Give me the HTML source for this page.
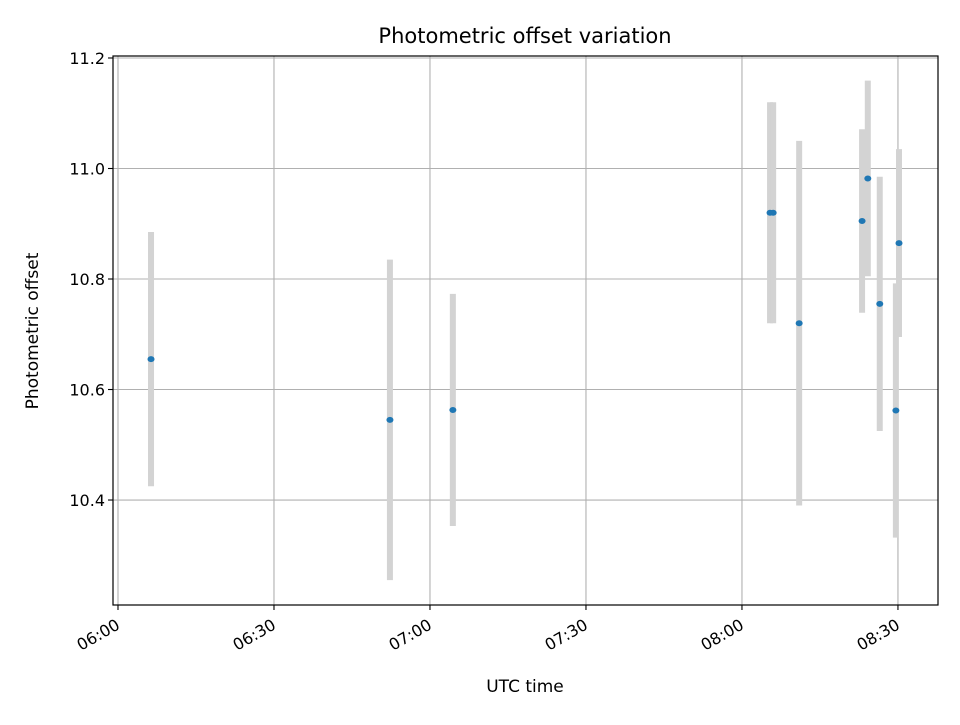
<!DOCTYPE html>
<html><head><meta charset="utf-8"><style>
body{margin:0;background:#fff}
svg text{font-family:"DejaVu Sans","Liberation Sans",sans-serif;fill:#000}
</style></head><body>
<svg id="chart" width="960" height="720" viewBox="0 0 960 720" xmlns="http://www.w3.org/2000/svg">
<rect width="960" height="720" fill="#fff"/>
<g id="grid"></g>
<g id="bars"></g>
<g id="pts"></g>
<rect x="113" y="56" width="825" height="549" fill="none" stroke="#000" stroke-width="1.2"/>
<g id="ticks"></g>
<text x="525" y="43" font-size="21" text-anchor="middle">Photometric offset variation</text>
<text x="525" y="692" font-size="17" text-anchor="middle">UTC time</text>
<text transform="translate(38,331) rotate(-90)" font-size="17" text-anchor="middle">Photometric offset</text>
</svg>
<script>
// minutes since 06:00 UTC
const times=[6.35,52.3,64.4,125.4,126.0,131.0,143.1,144.2,146.5,149.6,150.2];
const offsets=[10.655,10.545,10.563,10.92,10.92,10.72,10.905,10.982,10.755,10.562,10.865];
const errors=[0.23,0.29,0.21,0.2,0.2,0.33,0.166,0.177,0.23,0.23,0.17];
const xTickMinutes=[0,30,60,90,120,150];
const xTickLabels=["06:00","06:30","07:00","07:30","08:00","08:30"];
const yTicks=[10.4,10.6,10.8,11.0,11.2];
const yTickLabels=["10.4","10.6","10.8","11.0","11.2"];

const L=113,R=938,T=56,B=605;
const xMin=-0.96,xMax=157.7,yMin=10.210,yMax=11.2036;
const X=m=>L+(m-xMin)/(xMax-xMin)*(R-L);
const Y=v=>B-(v-yMin)/(yMax-yMin)*(B-T);
const NS="http://www.w3.org/2000/svg";
function mk(parent,tag,attrs){const e=document.createElementNS(NS,tag);for(const k in attrs)e.setAttribute(k,attrs[k]);document.getElementById(parent).appendChild(e);return e;}

xTickMinutes.forEach((m,i)=>{
  const x=X(m);
  const g=mk('grid','line',{x1:x,x2:x,y1:T,y2:B,stroke:'#b0b0b0','stroke-width':1.1});
  
  
  const t=mk('ticks','line',{x1:x,x2:x,y1:B,y2:B+5,stroke:'#000','stroke-width':1.1});
  
  
  const lb=mk('ticks','text',{'font-size':16,'text-anchor':'end',transform:`translate(${x+3},${B+23}) rotate(-30)`});
  lb.textContent=xTickLabels[i];
  
  
});
yTicks.forEach((v,i)=>{
  const y=Y(v);
  const g=mk('grid','line',{x1:L,x2:R,y1:y,y2:y,stroke:'#b0b0b0','stroke-width':1.1});
  
  
  const t=mk('ticks','line',{x1:L-5,x2:L,y1:y,y2:y,stroke:'#000','stroke-width':1.1});
  
  
  const lb=mk('ticks','text',{x:L-8,y:y+6,'font-size':16,'text-anchor':'end'});
  lb.textContent=yTickLabels[i];
  
  
});
times.forEach((m,i)=>{
  const x=X(m);
  const b=mk('bars','line',{x1:x,x2:x,y1:Y(offsets[i]-errors[i]),y2:Y(offsets[i]+errors[i]),stroke:'#d3d3d3','stroke-width':6});
  
  
  const p=mk('pts','ellipse',{cx:x,cy:Y(offsets[i]),rx:3.5,ry:3,fill:'#1f77b4'});
  
  
});
</script>
</body></html>
